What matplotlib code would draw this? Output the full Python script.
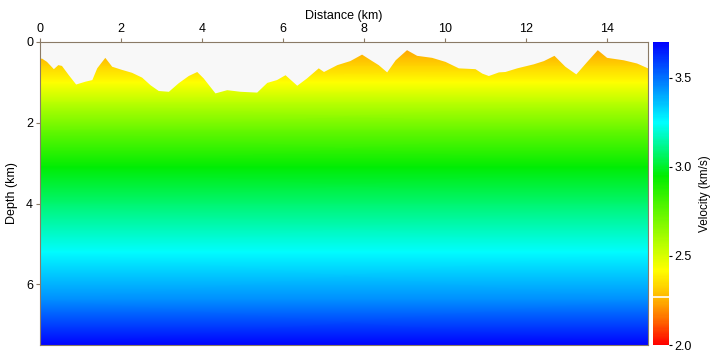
import numpy as np
import matplotlib.pyplot as plt
from matplotlib.colors import LinearSegmentedColormap

plt.rcParams['font.family'] = ['Liberation Sans', 'DejaVu Sans']
plt.rcParams['font.size'] = 9

# surface topography (depth of the free surface, km)
topo_x = [0.0, 0.04, 0.16, 0.33, 0.44, 0.53, 0.70, 0.88, 1.11, 1.28, 1.40, 1.60, 1.77,
          2.02, 2.26, 2.51, 2.72, 2.92, 3.17, 3.41, 3.66, 3.87, 4.03, 4.32, 4.61, 4.94,
          5.35, 5.60, 5.84, 6.05, 6.34, 6.58, 6.87, 7.00, 7.33, 7.65, 7.94, 8.19, 8.35,
          8.56, 8.77, 9.05, 9.30, 9.67, 10.0, 10.33, 10.74, 10.91, 11.07, 11.32, 11.48,
          11.77, 12.18, 12.43, 12.69, 12.96, 13.23, 13.50, 13.76, 13.99, 14.40, 14.73, 15.0]
topo_z = [0.40, 0.40, 0.48, 0.66, 0.56, 0.58, 0.81, 1.04, 0.97, 0.93, 0.64, 0.38, 0.60,
          0.68, 0.75, 0.87, 1.06, 1.20, 1.22, 1.01, 0.83, 0.73, 0.89, 1.26, 1.18, 1.22,
          1.24, 1.00, 0.93, 0.81, 1.07, 0.89, 0.64, 0.73, 0.56, 0.46, 0.30, 0.46, 0.56,
          0.74, 0.44, 0.19, 0.33, 0.38, 0.48, 0.64, 0.66, 0.77, 0.83, 0.74, 0.73,
          0.64, 0.54, 0.46, 0.33, 0.60, 0.79, 0.48, 0.19, 0.38, 0.44, 0.52, 0.64]

# 1D velocity profile v(z)
depth_nodes = [0.0, 0.6, 1.0, 1.5, 2.2, 3.1, 4.0, 5.2, 6.4, 7.5]
vel_nodes = [2.20, 2.33, 2.42, 2.56, 2.74, 2.95, 3.08, 3.25, 3.45, 3.70]

vmin, vmax = 2.0, 3.7
cbar_ticks = [2.0, 2.5, 3.0, 3.5]
x_ticks = [0, 2, 4, 6, 8, 10, 12, 14]
z_ticks = [0, 2, 4, 6]

stops = [(2.0, (1, 0, 0)), (2.15, (1, 0.45, 0)), (2.25, (1, 0.69, 0)), (2.42, (1, 1, 0)),
         (2.55, (0.75, 1, 0)), (2.95, (0, 0.93, 0)), (3.25, (0, 1, 1)), (3.7, (0, 0, 1))]
cmap = LinearSegmentedColormap.from_list(
    'vel', [((v - vmin) / (vmax - vmin), c) for v, c in stops])

fig = plt.figure(figsize=(7.16, 3.55), dpi=100)
ax = fig.add_axes([40 / 716, 1 - 345 / 355, 607.5 / 716, 303 / 355])
cax = fig.add_axes([653 / 716, 1 - 345 / 355, 16 / 716, 303 / 355])

xg = np.array([0.0, 15.0])
zg = np.array(depth_nodes)
V = np.repeat(np.array(vel_nodes)[:, None], 2, axis=1)
mesh = ax.pcolormesh(xg, zg, V, shading='gouraud', cmap=cmap, vmin=vmin, vmax=vmax)

# blank out the air above the surface
ax.fill_between(topo_x, 0, topo_z, color='#f8f8f8', lw=0, zorder=2)

ax.set_xlim(0, 15)
ax.set_ylim(7.5, 0)
ax.xaxis.tick_top()
ax.xaxis.set_label_position('top')
ax.set_xticks(x_ticks)
ax.set_yticks(z_ticks)
ax.set_xlabel('Distance (km)', labelpad=3)
ax.set_ylabel('Depth (km)', labelpad=6)
spine_c = '#8a7a66'
for s in ax.spines.values():
    s.set_color(spine_c)
ax.tick_params(length=3, width=0.8, color=spine_c, pad=2)

cb = fig.colorbar(mesh, cax=cax, ticks=cbar_ticks)
cb.outline.set_visible(False)
cb.ax.tick_params(length=2, width=0.8, pad=2)
cb.ax.set_yticklabels(['%.1f' % t for t in cbar_ticks])
cb.ax.axhline(2.27, color='white', lw=1.2)
cb.set_label('Velocity (km/s)', labelpad=5, fontsize=8.5)

fig.savefig('out.png', dpi=100)
